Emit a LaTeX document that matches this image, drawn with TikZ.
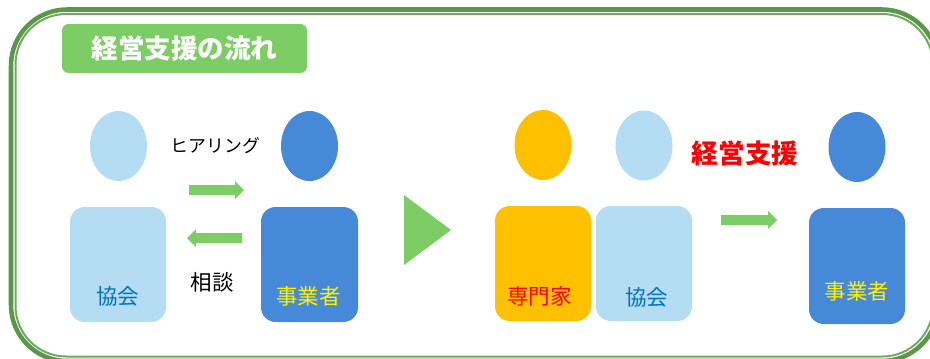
\documentclass[tikz,border=0pt]{standalone}
\usepackage{fontspec}
\setmainfont{Noto Sans CJK JP}
\definecolor{framegreen}{HTML}{5B974A}
\definecolor{thingreen}{HTML}{6FA85E}
\definecolor{leaf}{HTML}{7DCD65}
\definecolor{pale}{HTML}{B4DDF4}
\definecolor{mid}{HTML}{4689D9}
\definecolor{gold}{HTML}{FFC000}
\definecolor{ink}{HTML}{0070C0}
\newcommand{\pxfont}[1]{\fontsize{#1}{#1}\selectfont}
\newlength{\pxu}\setlength{\pxu}{0.75pt}
\usetikzlibrary{shapes.geometric}
\tikzset{
  head/.style={ellipse,minimum width=57\pxu,minimum height=70\pxu,inner sep=0pt},
  lbl/.style={inner sep=0pt,font=\pxfont{16.1pt}},
  arrowshape/.style={fill=leaf,draw=none},
}
\begin{document}
\begin{tikzpicture}[x=0.75pt,y=-0.75pt]
\useasboundingbox (0,0) rectangle (930,358);
\clip (0,0) rectangle (930,358);
% frame
\draw[framegreen,line width=3.4pt,rounded corners=42pt] (11,9.5) rectangle (938,361);
\draw[thingreen,line width=1.5pt,rounded corners=38pt] (15.5,14) rectangle (933,356.5);
% title
\node[fill=leaf,rounded corners=5pt,minimum width=183.75pt,minimum height=36.75pt,inner sep=0pt,
  text=white,font=\pxfont{19.9pt}\bfseries] (title) at (184.5,48.5) {経営支援の流れ};
% persons left
\node[head,fill=pale] (h1) at (118.5,146) {};
\node[head,fill=mid] (h2) at (309.5,146) {};
\fill[pale,rounded corners=11pt] (70,207) rectangle (166,322);
\fill[mid,rounded corners=11pt] (261,207) rectangle (358,322);
\node[lbl,text=ink] (l1) at (117.5,296) {協会};
\node[lbl,text=yellow] (l2) at (308.5,296) {事業者};
\node[lbl,text=black,font=\pxfont{13.4pt}] (hear) at (215.5,146) {ヒアリング};
\node[lbl,text=black] (soudan) at (212,282) {相談};
% arrows
\fill[arrowshape] (189,185) -- (235,185) -- (235,181) -- (244,190) -- (235,199) -- (235,195) -- (189,195) -- cycle;
\fill[arrowshape] (242,233) -- (196,233) -- (196,229) -- (187,238) -- (196,247) -- (196,243) -- (242,243) -- cycle;
\fill[arrowshape] (404,195) -- (451,230) -- (404,265) -- cycle;
\fill[arrowshape] (721,215) -- (768,215) -- (768,211) -- (777,220) -- (768,229) -- (768,225) -- (721,225) -- cycle;
% persons right
\node[head,fill=gold] (h3) at (543,145) {};
\node[head,fill=pale] (h4) at (644,145.5) {};
\node[head,fill=mid] (h5) at (857,147) {};
\fill[gold,rounded corners=11pt] (495,206) rectangle (591,321);
\fill[pale,rounded corners=11pt] (596,206) rectangle (692,321);
\fill[mid,rounded corners=11pt] (809,208) rectangle (905,324);
\node[lbl,text=red] (l3) at (539.5,296) {専門家};
\node[lbl,text=ink] (l4) at (646.5,297) {協会};
\node[lbl,text=yellow] (l5) at (857,291) {事業者};
\node[inner sep=0pt,text=red,font=\pxfont{19.9pt}\bfseries] (support) at (745,153) {経営支援};
\end{tikzpicture}
\end{document}
